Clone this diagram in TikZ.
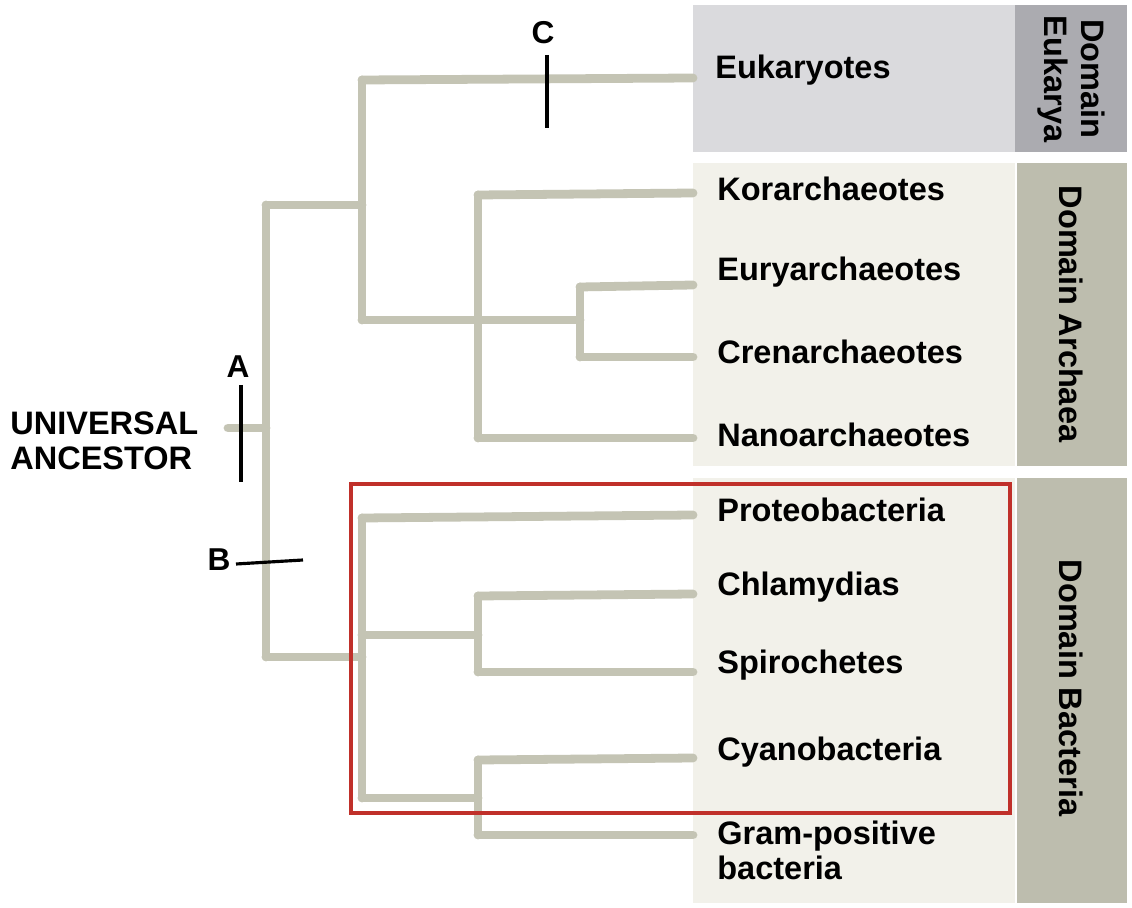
\documentclass[tikz,border=0pt]{standalone}
\usepackage{fontspec}
\setmainfont{Liberation Sans}
\begin{document}
\begin{tikzpicture}[x=0.02cm,y=-0.02cm,
  br/.style={draw=brc,line width=5pt,line cap=round,line join=round},
  lbl/.style={anchor=west,font=\bfseries\fontsize{18.5}{20}\selectfont,align=left,inner sep=0pt},
  dom/.style={font=\bfseries\fontsize{18.5}{21}\selectfont,rotate=-90,align=center,inner sep=0pt},
  mk/.style={draw=black,line width=1.8pt},
  ml/.style={font=\bfseries\fontsize{18}{20}\selectfont,inner sep=0pt}]
\definecolor{brc}{HTML}{C4C4B4}
\definecolor{eub}{HTML}{DADADD}
\definecolor{eud}{HTML}{ABABB0}
\definecolor{arb}{HTML}{F2F1EA}
\definecolor{ard}{HTML}{BDBDAE}
\definecolor{rbx}{HTML}{C0302A}
\useasboundingbox (0,0) rectangle (1132,908);
\fill[white] (0,0) rectangle (1132,908);
% boxes
\fill[eub] (693,5) rectangle (1015,152);
\fill[eud] (1015,5) rectangle (1127,152);
\fill[arb] (693,163) rectangle (1015,466);
\fill[ard] (1017,163) rectangle (1127,466);
\fill[arb] (693,478) rectangle (1015,903);
\fill[ard] (1017,478) rectangle (1127,903);
\node[dom] (de) at (1071,79) {Domain\\Eukarya};
\node[dom] (da) at (1071,314) {Domain Archaea};
\node[dom] (db) at (1071,688) {Domain Bacteria};
% tree
\coordinate (root) at (228,428);
\coordinate (n1) at (266,428);
\draw[br] (root) -- (n1);
\draw[br] (266,205) -- (266,657);
\draw[br] (266,205) -- (362,205);
\draw[br] (362,80) -- (362,320);
\draw[br] (362,80) -- (693,78);
\draw[br] (362,320) -- (580,320);
\draw[br] (478,195) -- (478,438);
\draw[br] (478,195) -- (693,193);
\draw[br] (478,438) -- (693,438);
\draw[br] (580,287) -- (580,357);
\draw[br] (580,287) -- (693,285);
\draw[br] (580,357) -- (693,357);
\draw[br] (266,657) -- (362,657);
\draw[br] (362,518) -- (362,798);
\draw[br] (362,518) -- (693,515);
\draw[br] (362,635) -- (478,635);
\draw[br] (478,596) -- (478,672);
\draw[br] (478,596) -- (693,594);
\draw[br] (478,672) -- (693,672);
\draw[br] (362,798) -- (478,798);
\draw[br] (478,760) -- (478,835);
\draw[br] (478,760) -- (693,758);
\draw[br] (478,835) -- (693,835);
% labels
\node[lbl] (t0) at (715,70) {Eukaryotes};
\node[lbl] (t1) at (717,189) {Korarchaeotes};
\node[lbl] (t2) at (717,272) {Euryarchaeotes};
\node[lbl] (t3) at (717,352) {Crenarchaeotes};
\node[lbl] (t4) at (717,435) {Nanoarchaeotes};
\node[lbl] (t5) at (717,510) {Proteobacteria};
\node[lbl] (t6) at (717,587) {Chlamydias};
\node[lbl] (t7) at (717,665) {Spirochetes};
\node[lbl] (t8) at (717,752) {Cyanobacteria};
\node[lbl] (t9) at (717,850) {Gram-positive\\bacteria};
\node[lbl] (ua) at (10,441) {UNIVERSAL\\ANCESTOR};
% red box
\draw[rbx,line width=2.5pt] (351,484) rectangle (1010,813);
% marks
\draw[mk] (241,385) -- (241,482);
\node[ml] (A) at (238,367) {A};
\draw[mk] (236,564) -- (303,560);
\node[ml] (B) at (219,560) {B};
\draw[mk] (547,55) -- (547,128);
\node[ml] (C) at (543,33) {C};
\end{tikzpicture}
\end{document}
